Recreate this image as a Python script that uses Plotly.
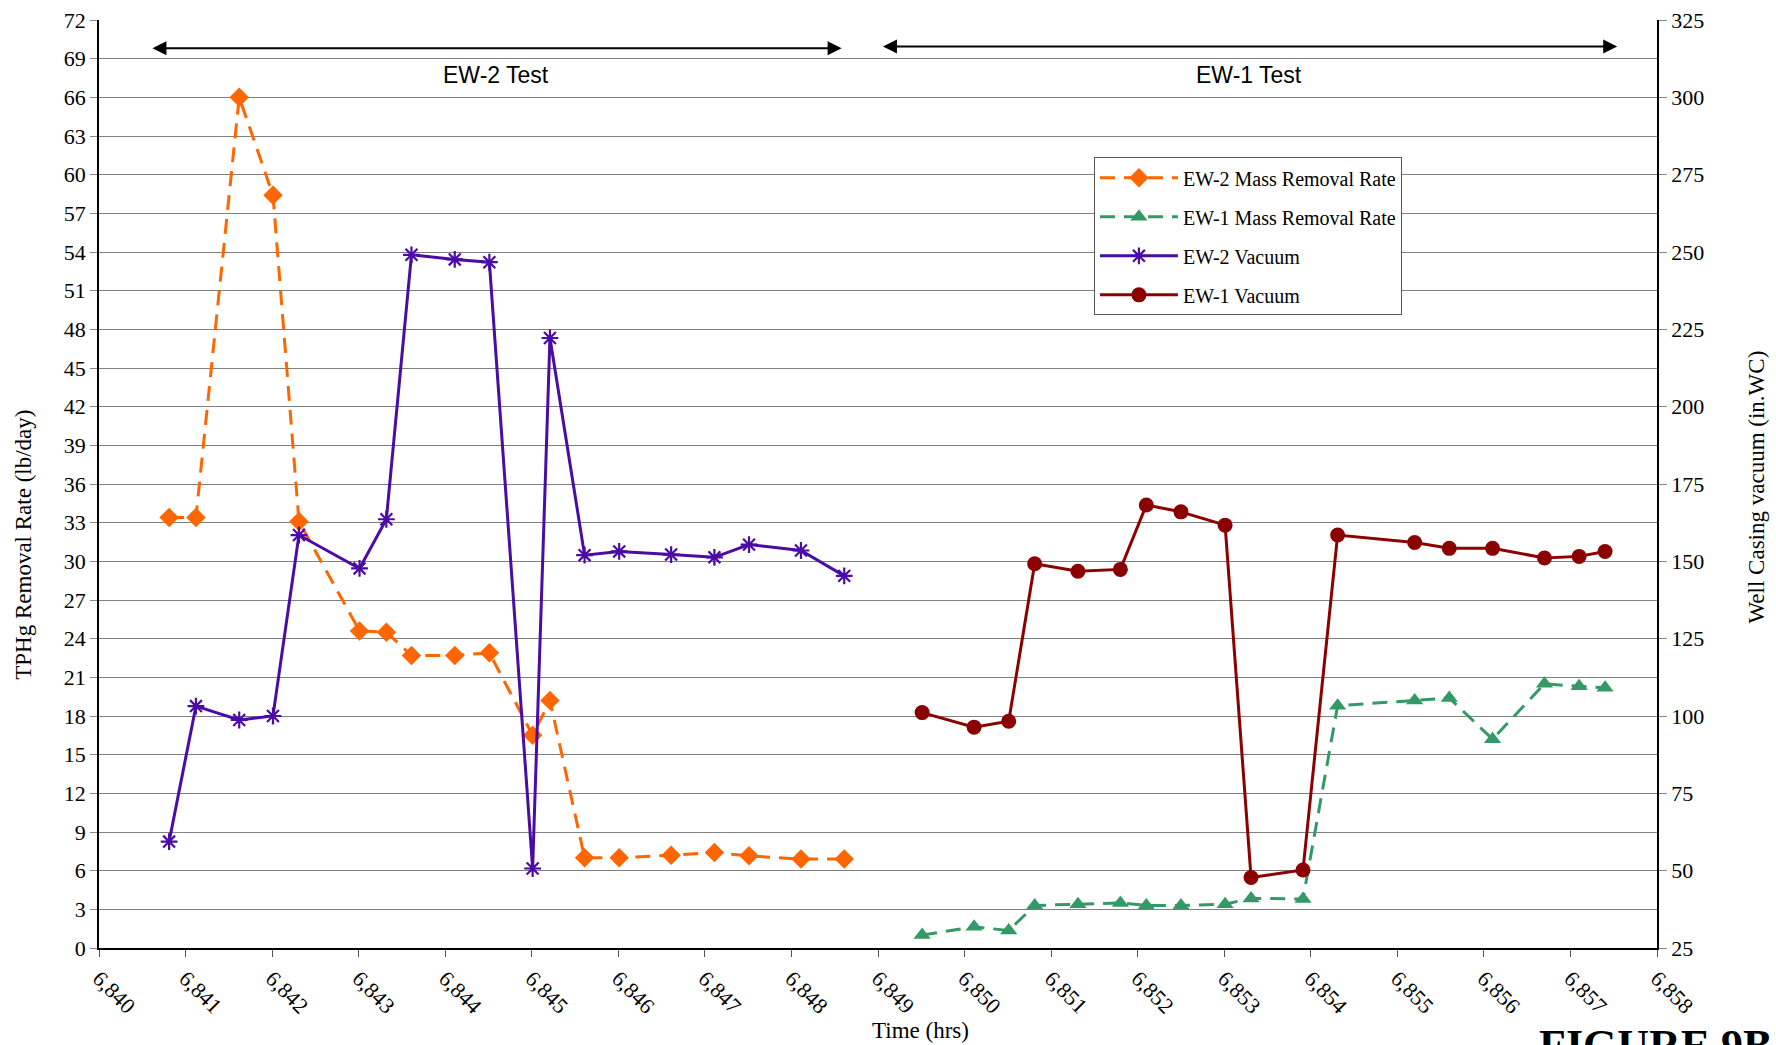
import plotly.graph_objects as go

# ---- data -------------------------------------------------------------
ew2_time = [6840.81, 6841.12, 6841.62, 6842.01, 6842.31, 6843.01, 6843.32, 6843.61,
            6844.11, 6844.51, 6845.01, 6845.21, 6845.61, 6846.01, 6846.61, 6847.11,
            6847.51, 6848.11, 6848.61]
ew2_mass = [33.4, 33.4, 66.0, 58.4, 33.1, 24.6, 24.5, 22.7,
            22.7, 22.9, 16.5, 19.2, 7.0, 7.0, 7.2, 7.4,
            7.15, 6.9, 6.9]
ew2_vac = [59.4, 103.2, 98.7, 100.0, 158.5, 147.7, 163.6, 249.1,
           247.6, 246.7, 50.7, 222.2, 152.0, 153.2, 152.2, 151.3,
           155.4, 153.5, 145.3]

ew1_time = [6849.51, 6850.11, 6850.51, 6850.81, 6851.31, 6851.80, 6852.10, 6852.50,
            6853.01, 6853.31, 6853.91, 6854.31, 6855.20, 6855.60, 6856.10, 6856.70,
            6857.10, 6857.40]
ew1_mass = [1.0, 1.65, 1.35, 3.3, 3.4, 3.5, 3.3, 3.3,
            3.4, 3.85, 3.8, 18.8, 19.2, 19.4, 16.2, 20.5,
            20.3, 20.2]
ew1_vac = [101.1, 96.4, 98.3, 149.2, 146.8, 147.4, 168.2, 166.0,
           161.7, 47.8, 50.2, 158.5, 156.1, 154.2, 154.2, 151.1,
           151.6, 153.2]

# test period brackets: (start, end, label)
test_periods = [(6840.60, 6848.58, "EW-2 Test"), (6849.04, 6857.54, "EW-1 Test")]

# ---- styling ------------------------------------------------------------
SERIF = "Liberation Serif"
SANS = "Liberation Sans"
ORANGE = "#FF6600"
GREEN = "#339966"
PURPLE = "#4B0BA5"
DARKRED = "#8B0000"
GRID = "#808080"
DASH = "15px,9px"

fig = go.Figure()

fig.add_trace(go.Scatter(
    x=ew2_time, y=ew2_mass, name="EW-2 Mass Removal Rate", mode="lines+markers",
    line=dict(color=ORANGE, width=3, dash=DASH),
    marker=dict(symbol="diamond", size=15, color=ORANGE),
    legendgroup="a"))
fig.add_trace(go.Scatter(
    x=ew1_time, y=ew1_mass, name="EW-1 Mass Removal Rate", mode="lines+markers",
    line=dict(color=GREEN, width=3, dash=DASH),
    marker=dict(symbol="triangle-up", size=15, color=GREEN),
    legendgroup="b"))
fig.add_trace(go.Scatter(
    x=ew2_time, y=ew2_vac, name="EW-2 Vacuum", mode="lines+markers", yaxis="y2",
    line=dict(color=PURPLE, width=3),
    marker=dict(symbol="asterisk-open", size=14, color=PURPLE, line=dict(color=PURPLE, width=2.2)),
    legendgroup="c"))
fig.add_trace(go.Scatter(
    x=ew1_time, y=ew1_vac, name="EW-1 Vacuum", mode="lines+markers", yaxis="y2",
    line=dict(color=DARKRED, width=3),
    marker=dict(symbol="circle", size=15, color=DARKRED),
    legendgroup="d"))

annotations = []
arrow_y = [69.8, 69.95]
for (t0, t1, label), ay in zip(test_periods, arrow_y):
    annotations.append(dict(
        x=t1, y=ay, ax=t0, ay=ay, xref="x", yref="y", axref="x", ayref="y",
        text="", showarrow=True, arrowhead=2, startarrowhead=2, arrowside="end+start",
        arrowsize=1.4, arrowwidth=2, arrowcolor="black"))
    annotations.append(dict(
        x=(t0 + t1) / 2, y=67.7, xref="x", yref="y", text=label, showarrow=False,
        font=dict(family=SANS, size=23, color="black")))

# axis titles and figure caption
annotations += [
    dict(x=-0.0485, y=0.435, xref="paper", yref="paper", text="TPHg Removal Rate (lb/day)",
         textangle=-90, xanchor="center", yanchor="middle", showarrow=False,
         font=dict(family=SERIF, size=23, color="black")),
    dict(x=1.064, y=0.497, xref="paper", yref="paper", text="Well Casing vacuum (in.WC)",
         textangle=-90, xanchor="center", yanchor="middle", showarrow=False,
         font=dict(family=SERIF, size=23, color="black")),
    dict(x=0.527, y=-0.089, xref="paper", yref="paper", text="Time (hrs)",
         xanchor="center", yanchor="middle", showarrow=False,
         font=dict(family=SERIF, size=23, color="black")),
    dict(x=0.923, y=-0.077, xref="paper", yref="paper", text="<b>FIGURE 9B</b>",
         xanchor="left", yanchor="top", showarrow=False,
         font=dict(family=SERIF, size=44, color="black")),
]

fig.update_layout(
    width=1776, height=1045,
    margin=dict(l=99, r=119, t=20, b=97),
    paper_bgcolor="white", plot_bgcolor="white",
    font=dict(family=SERIF, size=22, color="black"),
    showlegend=True,
    legend=dict(x=0.6386, y=0.852, xanchor="left", yanchor="top",
                bgcolor="white", bordercolor="#555555", borderwidth=1,
                font=dict(family=SERIF, size=20, color="black"),
                tracegroupgap=10, itemwidth=78),
    xaxis=dict(range=[6840, 6858], dtick=1, tick0=6840, tickformat=",d",
               tickangle=45, ticks="outside", ticklen=7, tickcolor="#555555",
               showgrid=False, zeroline=False, showline=True, linecolor="black", linewidth=1.5,
               tickfont=dict(family=SERIF, size=22), automargin=False),
    yaxis=dict(range=[0, 72], dtick=3, tick0=0, ticks="outside", ticklen=7, tickcolor="#888888",
               showgrid=True, gridcolor=GRID, gridwidth=1, zeroline=False,
               showline=True, linecolor="black", linewidth=1.5,
               tickfont=dict(family=SERIF, size=22), automargin=False),
    yaxis2=dict(range=[25, 325], dtick=25, tick0=25, overlaying="y", side="right",
                ticks="outside", ticklen=8, tickcolor="#888888",
                showgrid=False, zeroline=False, showline=True, linecolor="black", linewidth=1.5,
                tickfont=dict(family=SERIF, size=22), automargin=False),
    annotations=annotations,
)

fig.write_html("out.html")
